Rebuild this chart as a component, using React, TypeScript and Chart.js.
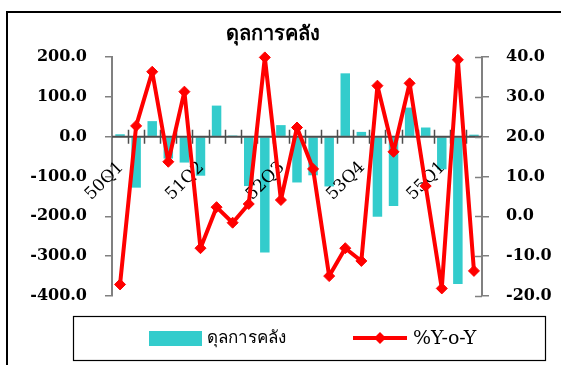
import { useEffect, useRef } from "react";
import { Chart, registerables } from "chart.js";

Chart.register(...registerables);

// Quarter labels (Thai fiscal years 2550–2555)
const quarters = [
  "50Q1", "50Q2", "50Q3", "50Q4",
  "51Q1", "51Q2", "51Q3", "51Q4",
  "52Q1", "52Q2", "52Q3", "52Q4",
  "53Q1", "53Q2", "53Q3", "53Q4",
  "54Q1", "54Q2", "54Q3", "54Q4",
  "55Q1", "55Q2", "55Q3",
];

// Every fifth quarter gets a label on the category axis
const labelEvery = 5;

// Fiscal balance (left axis)
const fiscalBalance = [
  6, -128, 39, -55, -65, -98, 78, 3, -124, -291, 29, -115,
  -97, -125, 159, 12, -201, -174, 73, 23, -82, -370, 5,
];

// Year-on-year change, % (right axis)
const yoyPercent = [
  -17.1, 22.7, 36.3, 13.7, 31.3, -8.0, 2.3, -1.6, 3.1, 39.9, 4.1, 22.3,
  11.9, -15.0, -8.0, -11.2, 32.8, 16.2, 33.4, 7.6, -18.1, 39.3, -13.7,
];

const leftRange = { min: -400, max: 200, step: 100 };
const rightRange = { min: -20, max: 40, step: 10 };

const titleText = "ดุลการคลัง";
const barLabel = "ดุลการคลัง";
const lineLabel = "%Y-o-Y";

const barColor = "#33CCCC";
const lineColor = "#FF0000";
const axisGray = "#808080";
const thaiFont = "'Noto Sans', 'DejaVu Sans', sans-serif";
const serifFont = "'DejaVu Serif', serif";

function diamond(ctx: CanvasRenderingContext2D, x: number, y: number, r: number) {
  ctx.beginPath();
  ctx.moveTo(x, y - r);
  ctx.lineTo(x + r, y);
  ctx.lineTo(x, y + r);
  ctx.lineTo(x - r, y);
  ctx.closePath();
  ctx.fill();
}

const decorations = {
  id: "decorations",
  // zero-line category axis, crossing tick marks and rotated labels,
  // drawn above the bars but below the line series
  afterDatasetDraw(chart: any, args: any) {
    if (args.index !== 1) return;
    const { ctx, chartArea } = chart;
    const xs = chart.scales.x;
    const ys = chart.scales.y;
    const y0 = ys.getPixelForValue(0);
    const step = xs.getPixelForValue(1) - xs.getPixelForValue(0);
    ctx.save();
    ctx.strokeStyle = "#4d4d4d";
    ctx.lineWidth = 2;
    ctx.beginPath();
    ctx.moveTo(chartArea.left, y0);
    ctx.lineTo(chartArea.right, y0);
    ctx.stroke();
    ctx.lineWidth = 1.5;
    ctx.beginPath();
    for (let i = 1; i < quarters.length; i++) {
      const bx = Math.round(xs.getPixelForValue(i) - step / 2) + 0.5;
      ctx.moveTo(bx, y0 - 7);
      ctx.lineTo(bx, y0 + 7);
    }
    ctx.stroke();

    ctx.fillStyle = "#000";
    ctx.font = `17px ${serifFont}`;
    ctx.textAlign = "right";
    ctx.textBaseline = "middle";
    quarters.forEach((q, i) => {
      if (i % labelEvery !== 0) return;
      const px = xs.getPixelForValue(i);
      ctx.save();
      ctx.translate(px + 1, y0 + 28);
      ctx.rotate(-Math.PI / 4);
      ctx.fillText(q, 0, 0);
      ctx.restore();
    });
    ctx.restore();
  },
  afterDraw(chart: any) {
    const { ctx, chartArea } = chart;
    ctx.save();
    // inner half of the right-axis tick marks
    const y1 = chart.scales.y1;
    ctx.strokeStyle = axisGray;
    ctx.lineWidth = 1.5;
    ctx.beginPath();
    y1.ticks.forEach((t: any) => {
      const py = Math.round(y1.getPixelForValue(t.value)) + 0.5;
      ctx.moveTo(chartArea.right - 7, py);
      ctx.lineTo(chartArea.right, py);
    });
    ctx.stroke();

    // title
    ctx.fillStyle = "#000";
    ctx.font = `bold 20px ${thaiFont}`;
    ctx.textAlign = "center";
    ctx.textBaseline = "middle";
    ctx.fillText(titleText, 273, 34);

    // legend box
    ctx.strokeStyle = "#000";
    ctx.lineWidth = 1.2;
    ctx.strokeRect(73.5, 316.5, 472, 44);
    const ds = chart.data.datasets;
    const ly = 338;
    const barDs = ds[1];
    const lineDs = ds[0];
    ctx.fillStyle = barDs.backgroundColor;
    ctx.fillRect(149, 331, 53, 15);
    ctx.fillStyle = "#000";
    ctx.textAlign = "left";
    ctx.font = `17px ${thaiFont}`;
    ctx.fillText(barDs.label, 207, ly);
    ctx.strokeStyle = lineDs.borderColor;
    ctx.lineWidth = 4;
    ctx.beginPath();
    ctx.moveTo(353, ly);
    ctx.lineTo(407, ly);
    ctx.stroke();
    ctx.fillStyle = lineDs.borderColor;
    diamond(ctx, 380, ly, 6);
    ctx.fillStyle = "#000";
    ctx.font = `19px ${serifFont}`;
    ctx.fillText(lineDs.label, 413, ly + 1);
    ctx.restore();
  },
};

export default function App() {
  const canvasRef = useRef<HTMLCanvasElement>(null);

  useEffect(() => {
    const canvas = canvasRef.current;
    if (!canvas) return;
    const chart = new Chart(canvas, {
      type: "bar",
      data: {
        labels: quarters,
        datasets: [
          {
            type: "line",
            label: lineLabel,
            data: yoyPercent,
            yAxisID: "y1",
            borderColor: lineColor,
            backgroundColor: lineColor,
            borderWidth: 4,
            borderJoinStyle: "round",
            borderCapStyle: "round",
            pointStyle: "rectRot",
            pointRadius: 5.5,
            pointBorderWidth: 1,
            pointBackgroundColor: lineColor,
            pointBorderColor: lineColor,
            tension: 0,
            clip: false,
            order: 0,
          } as any,
          {
            type: "bar",
            label: barLabel,
            data: fiscalBalance,
            yAxisID: "y",
            backgroundColor: barColor,
            borderWidth: 0,
            categoryPercentage: 1,
            barPercentage: 0.59,
            order: 1,
          },
        ],
      },
      options: {
        responsive: false,
        animation: false,
        layout: { padding: { left: 0, right: 0, top: 57, bottom: 69 } },
        plugins: {
          legend: { display: false },
          title: { display: false },
          tooltip: { enabled: false },
        },
        scales: {
          x: {
            type: "category",
            position: { y: 0 } as any,
            offset: true,
            grid: { display: false, drawTicks: false },
            border: { display: false },
            ticks: { display: false, autoSkip: false },
          },
          y: {
            position: "left",
            min: leftRange.min,
            max: leftRange.max,
            ticks: {
              stepSize: leftRange.step,
              padding: 18,
              color: "#000",
              font: { family: serifFont, size: 16, weight: "bold" },
              callback: (v: any) => Number(v).toFixed(1),
            },
            grid: { drawOnChartArea: false, tickLength: 7, color: axisGray, lineWidth: 1.5 },
            border: { color: axisGray, width: 2 },
            afterFit: (s: any) => {
              s.width = 112;
            },
          },
          y1: {
            position: "right",
            min: rightRange.min,
            max: rightRange.max,
            ticks: {
              stepSize: rightRange.step,
              padding: 17,
              color: "#000",
              font: { family: serifFont, size: 16, weight: "bold" },
              callback: (v: any) => Number(v).toFixed(1),
            },
            grid: { drawOnChartArea: false, tickLength: 7, color: axisGray, lineWidth: 1.5 },
            border: { color: axisGray, width: 2 },
            afterFit: (s: any) => {
              s.width = 79;
            },
          },
        },
      },
      plugins: [decorations],
    });
    return () => chart.destroy();
  }, []);

  return (
    <div
      style={{
        position: "fixed",
        left: 0,
        top: 0,
        width: 561,
        height: 365,
        overflow: "hidden",
        background: "#fff",
      }}
    >
      <div
        style={{
          position: "absolute",
          left: 6,
          top: 11,
          width: 600,
          height: 400,
          border: "2px solid #000",
        }}
      />
      <canvas
        ref={canvasRef}
        width={561}
        height={365}
        style={{ position: "absolute", left: 0, top: 0, display: "block" }}
      />
    </div>
  );
}
